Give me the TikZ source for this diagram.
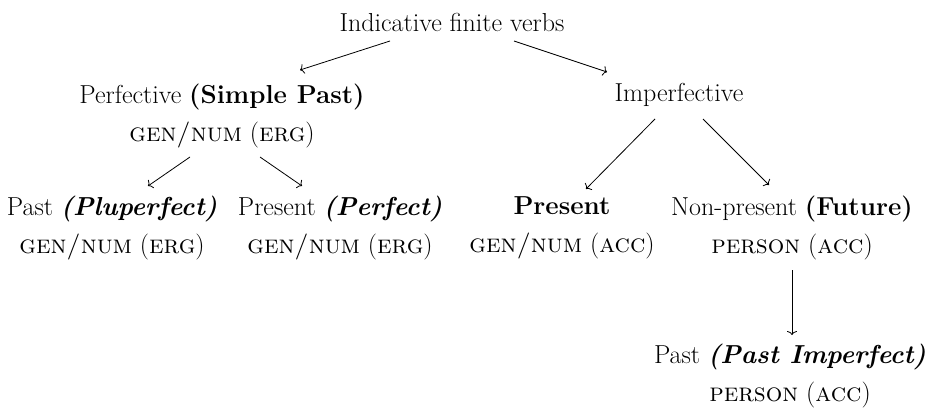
\documentclass[tikz,border=0pt]{standalone}
\usetikzlibrary{arrows.meta,calc}
\begin{document}
\begin{tikzpicture}[x=1pt,y=-1pt,
  lbl/.style={align=center,inner sep=0pt,font=\fontsize{26}{38}\selectfont},
  arr/.style={line width=0.8pt,-{To[length=4pt,width=10pt]}}]
\useasboundingbox (0,0) rectangle (927,409);
\node[lbl] (root) at (452,22) {Indicative finite verbs};
\node[lbl] (perf) at (222,116) {Perfective \textbf{(Simple Past)}\\ \textsc{gen/num} (\textsc{erg})};
\node[lbl] (imperf) at (679,95) {Imperfective};
\node[lbl] (pluper) at (112,228) {Past \textbf{\textit{(Pluperfect)}}\\ \textsc{gen/num} (\textsc{erg})};
\node[lbl] (perfect) at (340,228) {Present \textbf{\textit{(Perfect)}}\\ \textsc{gen/num} (\textsc{erg})};
\node[lbl] (pres) at (562,228) {\textbf{Present}\\ \textsc{gen/num} (\textsc{acc})};
\node[lbl] (nonpres) at (792,228) {Non-present \textbf{(Future)}\\ \textsc{person} (\textsc{acc})};
\node[lbl] (pastimp) at (790,376) {Past \textbf{\textit{(Past Imperfect)}}\\ \textsc{person} (\textsc{acc})};
\draw[arr] ($(root.center)+(-62,19)$) -- ($(perf.center)+(78,-46)$);
\draw[arr] ($(root.center)+(62,19)$) -- ($(imperf.center)+(-72,-23)$);
\draw[arr] ($(perf.center)+(-32,41)$) -- ($(pluper.center)+(36,-42)$);
\draw[arr] ($(perf.center)+(38,41)$) -- ($(perfect.center)+(-38,-42)$);
\draw[arr] ($(imperf.center)+(-24,24)$) -- ($(pres.center)+(24,-39)$);
\draw[arr] ($(imperf.center)+(24,24)$) -- ($(nonpres.center)+(-23,-43)$);
\draw[arr] ($(nonpres.center)+(0,42)$) -- ($(pastimp.center)+(2,-41)$);
\end{tikzpicture}
\end{document}
